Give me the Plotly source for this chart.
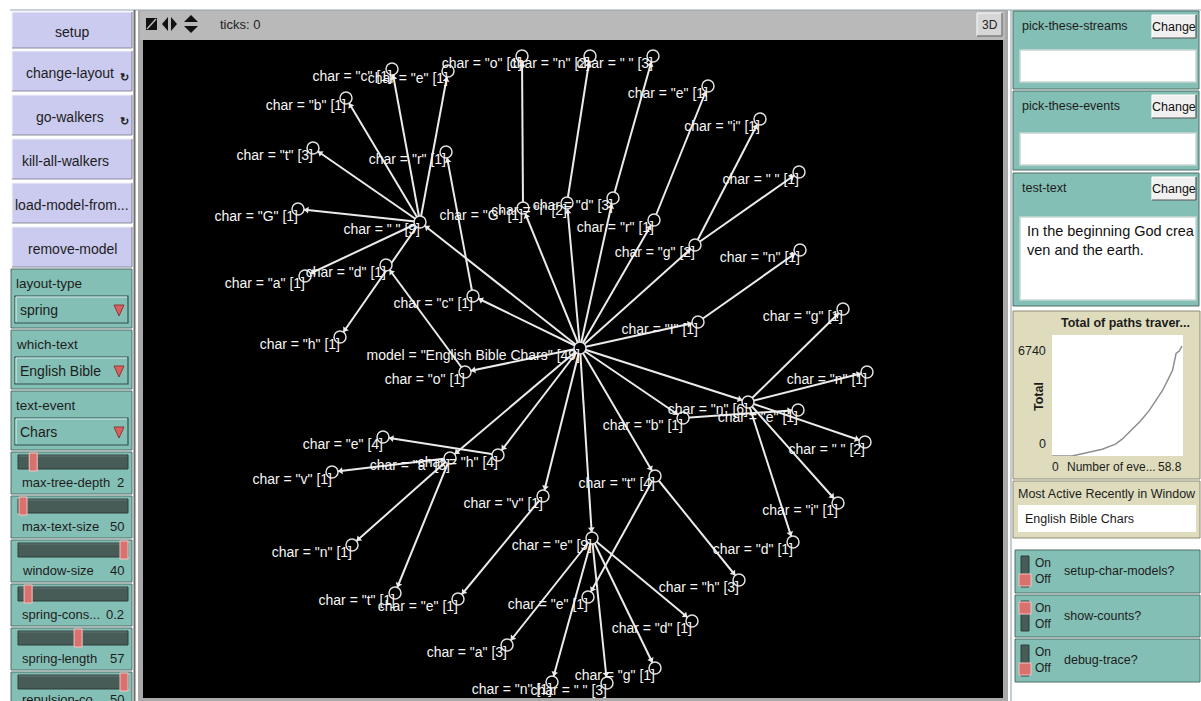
import math
import plotly.graph_objects as go

# ---------------- network data (positions in canvas pixels) ----------------
root_label = 'model = "English Bible Chars" [49]'
node_chars = ["", " ", "c", "e", "b", "t", "G", "a", "h", "c", "r", "o", "d", "G", "o", "i", "n",
              "d", " ", "r", "e", "g", "i", " ", "I", "n", "n", "g", "n", " ", "i", "d", "b", "e",
              "t", "h", "e", "e", "a", "n", " ", "g", "d", "v", "e", "h", "e", "a", "v", "n", "t"]
node_counts = [49, 9, 1, 1, 1, 3, 1, 1, 1, 1, 1, 1, 1, 1, 1, 2, 2, 3, 3, 1, 1, 2, 1, 1, 1, 1,
               6, 1, 1, 2, 1, 1, 1, 1, 4, 3, 1, 9, 3, 1, 3, 1, 1, 1, 1, 4, 4, 3, 1, 1, 1]
node_x = [580, 420, 392, 448, 346, 313, 298, 305, 340, 473, 446, 465, 386, 523, 522, 567, 590,
          613, 653, 654, 708, 695, 760, 799, 698, 800, 748, 843, 867, 865, 838, 793, 683, 798,
          655, 739, 588, 592, 507, 552, 607, 655, 692, 543, 458, 498, 383, 450, 332, 352, 395]
node_y = [348, 222, 69, 71, 98, 148, 209, 276, 337, 296, 152, 372, 265, 208, 56, 203, 56,
          198, 56, 220, 86, 245, 119, 172, 322, 250, 402, 309, 372, 442, 503, 542, 418, 410,
          476, 580, 597, 538, 645, 682, 683, 668, 621, 496, 599, 455, 437, 458, 472, 545, 593]
node_parent = [-1, 0, 1, 1, 1, 1, 1, 1, 1, 0, 9, 0, 11, 0, 13, 0, 15, 0, 17, 0, 19, 0, 21, 21,
               0, 24, 0, 26, 26, 26, 26, 26, 0, 32, 0, 34, 34, 0, 37, 37, 37, 37, 37, 0, 43,
               0, 45, 0, 47, 47, 47]

# ---------------- inset plot data ----------------
plot_x = [0, 8.9, 13.5, 22.5, 28.5, 31.5, 36.1, 39.8, 43.6, 46.6, 49.6, 51.9, 54.1, 55.7, 57.2, 58.3]
plot_y = [0, 0, 142, 414, 723, 1030, 1650, 2163, 2781, 3399, 4017, 4635, 5253, 6285, 6446, 6736]
plot_title = "Total of paths traver..."
plot_xlabel = "Number of eve..."
plot_ylabel = "Total"
plot_xmax_label = "58.8"
plot_ymax_label = "6740"

# ---------------- widget data ----------------
buttons = ["setup", "change-layout", "go-walkers", "kill-all-walkers", "load-model-from...", "remove-model"]
button_forever = [False, True, True, False, False, False]
chooser_names = ["layout-type", "which-text", "text-event"]
chooser_values = ["spring", "English Bible", "Chars"]
slider_names = ["max-tree-depth", "max-text-size", "window-size", "spring-cons...", "spring-length", "repulsion-co..."]
slider_values = ["2", "50", "40", "0.2", "57", "50"]
slider_frac = [0.11, 0.01, 1.0, 0.06, 0.55, 1.0]
input_names = ["pick-these-streams", "pick-these-events", "test-text"]
input_texts = ["", "", "In the beginning God crea<br>ven and the earth."]
monitor_name = "Most Active Recently in Window"
monitor_value = "English Bible Chars"
switch_names = ["setup-char-models?", "show-counts?", "debug-trace?"]
switch_on = [False, True, False]

W, H = 1201, 701
UI = "Liberation Sans, Arial, sans-serif"
LBL = "Liberation Sans, Arial, sans-serif"
TEAL = "#84bfb5"
TEAL_B = "#4c6e68"
LAV = "#cbcbef"
BEIGE = "#dedcbc"
TRACK = "#475c57"
THUMB = "#d9716f"

shapes = []
annots = []


def rect(x0, y0, x1, y1, fill, line=None, lw=1.0, layer="below"):
    shapes.append(dict(type="rect", xref="x", yref="y", x0=x0, y0=y0, x1=x1, y1=y1,
                       fillcolor=fill, line=dict(color=line if line else fill, width=lw if line else 0),
                       layer=layer))


def seg(x0, y0, x1, y1, color, w=1.0, layer="below"):
    shapes.append(dict(type="line", xref="x", yref="y", x0=x0, y0=y0, x1=x1, y1=y1,
                       line=dict(color=color, width=w), layer=layer))


def path(d, fill, line=None, layer="below"):
    shapes.append(dict(type="path", xref="x", yref="y", path=d, fillcolor=fill,
                       line=dict(color=line if line else fill, width=1 if line else 0), layer=layer))


def txt(x, y, s, size=13, color="#1c1c1c", xanchor="center", family=UI, angle=0):
    annots.append(dict(x=x, y=y, xref="x", yref="y", text=s, showarrow=False, xanchor=xanchor,
                       yanchor="middle", font=dict(size=size, color=color, family=family),
                       textangle=angle))


def bevel(x0, y0, x1, y1, fill, light="#f2f2fa", dark="#8a8aa0"):
    rect(x0, y0, x1, y1, fill)
    seg(x0, y0, x1, y0, light, 1.2)
    seg(x0, y0, x0, y1, light, 1.2)
    seg(x0, y1, x1, y1, dark, 1.2)
    seg(x1, y0, x1, y1, dark, 1.2)


# page frame lines
seg(10, 10, 1201, 10, "#93a3b5", 1.2)
seg(134.5, 10, 134.5, 701, "#6d6d6d", 2)

# ---- left panel: buttons ----
btn_rows = [(12, 48), (51, 91), (95, 135), (139, 179), (183, 223), (227, 267)]
for (y0, y1), name, fv in zip(btn_rows, buttons, button_forever):
    bevel(12, y0, 132, y1, LAV)
    cy = (y0 + y1) / 2 + 2
    cx = 72 if name != "kill-all-walkers" else 65
    if name == "change-layout" or name == "go-walkers":
        cx = 70
    txt(cx, cy, name, 14)
    if fv:
        txt(124, cy + 4, "<b>↻</b>", 11, "#222")

# ---- choosers ----
ch_tops = [269, 330, 391]
for top, name, val in zip(ch_tops, chooser_names, chooser_values):
    rect(11, top, 132, top + 59, TEAL, TEAL_B, 1)
    txt(14, top + 14, name, 13.5, xanchor="left")
    rect(15, top + 27, 128, top + 54, TEAL, "#35504b", 1.2)
    seg(16, top + 28, 127, top + 28, "#d2ece7", 1.2)
    seg(16, top + 28, 16, top + 53, "#d2ece7", 1.2)
    txt(18, top + 41, val, 14, xanchor="left")
    tx, ty = 119, top + 41
    path(f"M {tx-5} {ty-5} L {tx+5} {ty-5} L {tx} {ty+6} Z", "#d9605e", "#8a3a38")

# ---- sliders ----
sl_tops = [452, 496, 540, 584, 628, 672]
for top, name, val, fr in zip(sl_tops, slider_names, slider_values, slider_frac):
    rect(11, top, 132, top + 42, TEAL, TEAL_B, 1)
    rect(18, top + 3, 128, top + 17, TRACK, "#2e3d3a", 1)
    seg(19, top + 4, 127, top + 4, "#5f7772", 1)
    cx = 22 + fr * 102
    rect(cx - 4, top + 1, cx + 4, top + 19, THUMB, "#f3c5c3", 1)
    ty = min(top + 30, 699.5)
    txt(20, ty, name, 13, xanchor="left")
    txt(126, ty, val, 13, xanchor="right")

# ---- view frame ----
rect(138, 10, 1008, 701, "#a9a9a9")
rect(140, 11, 1005, 40, "#b9b9b9")
rect(143, 40, 1003, 698, "#000000")
# view toolbar icons
rect(146, 18, 157, 30, "#111111")
seg(147, 29, 156, 19, "#b9b9b9", 1.5)
path("M 162 24 L 168 17 L 168 31 Z", "#111111")
path("M 171 17 L 177 24 L 171 31 Z", "#111111")
path("M 184 22 L 191 15 L 198 22 Z", "#111111")
path("M 184 26 L 198 26 L 191 33 Z", "#111111")
txt(218, 24, "ticks: 0", 13, "#222", xanchor="left")
bevel(977, 13, 1002, 36, "#d6d6d6", "#f5f5f5", "#6f6f6f")
txt(989.5, 25, "3D", 12, "#222")

# ---- right panel ----
seg(1011, 10, 1011, 701, "#8898a8", 1)
in_rows = [(11, 89, 50, 82), (91, 170, 133, 165), (173, 306, 217, 300)]
for (y0, y1, b0, b1), name, val in zip(in_rows, input_names, input_texts):
    rect(1013, y0, 1199, y1, TEAL, TEAL_B, 1)
    txt(1020, y0 + 15, name, 12.5, xanchor="left")
    bevel(1152, y0 + 4, 1196, y0 + 27, "#f0f0f0", "#ffffff", "#555555")
    txt(1174, y0 + 16, "Change", 12.5, "#111")
    rect(1020, b0, 1196, b1, "#ffffff", "#c9d6d3", 1.5)
    if val:
        annots.append(dict(x=1025, y=b0 + 4, xref="x", yref="y", text=val, showarrow=False,
                           xanchor="left", yanchor="top", align="left",
                           font=dict(size=14.5, color="#111", family=UI)))

# plot widget
rect(1013, 311, 1200, 479, BEIGE, "#8c8b73", 1)
rect(1052, 335, 1183, 456, "#ffffff")
txt(1125, 323, f"<b>{plot_title}</b>", 12.5)
txt(1048, 351, plot_ymax_label, 12.5, xanchor="right")
txt(1048, 444, "0", 12.5, xanchor="right")
txt(1039, 397, f"<b>{plot_ylabel}</b>", 12.5, angle=-90)
txt(1055, 467, "0", 12)
txt(1065, 467, plot_xlabel, 12, xanchor="left")
txt(1184, 467, plot_xmax_label, 12, xanchor="right")

# monitor
rect(1013, 481, 1200, 538, BEIGE, "#8c8b73", 1)
txt(1107, 494, monitor_name, 12.5)
rect(1018, 505, 1196, 532, "#ffffff")
txt(1023, 519, monitor_value, 12.5, xanchor="left")

# switches
sw_rows = [(550, 593), (595, 637), (639, 682)]
for (y0, y1), name, on in zip(sw_rows, switch_names, switch_on):
    rect(1015, y0, 1200, y1, TEAL, TEAL_B, 1)
    rect(1021, y0 + 6, 1029, y1 - 6, TRACK, "#2e3d3a", 1)
    if on:
        rect(1019, y0 + 7, 1031, y0 + 19, THUMB, "#f3c5c3", 1)
    else:
        rect(1019, y1 - 19, 1031, y1 - 7, THUMB, "#f3c5c3", 1)
    txt(1033, y0 + 13, "On", 12, xanchor="left")
    txt(1033, y0 + 29, "Off", 12, xanchor="left")
    txt(1062, y0 + 21, name, 12.5, xanchor="left")

# ---------------- network traces ----------------
ex, ey, ax_, ay_, ang = [], [], [], [], []
for i, p in enumerate(node_parent):
    if p < 0:
        continue
    x0, y0, x1, y1 = node_x[p], node_y[p], node_x[i], node_y[i]
    ex += [x0, x1, None]
    ey += [y0, y1, None]
    L = math.hypot(x1 - x0, y1 - y0)
    ux, uy = (x1 - x0) / L, (y1 - y0) / L
    ax_.append(x1 - ux * 9)
    ay_.append(y1 - uy * 9)
    ang.append(math.degrees(math.atan2(ux, -uy)))

labels = [root_label] + [f'char = "{c}" [{n}]' for c, n in zip(node_chars[1:], node_counts[1:])]

fig = go.Figure()
fig.add_trace(go.Scatter(x=ex, y=ey, mode="lines", line=dict(color="#ebebeb", width=2),
                         hoverinfo="skip", showlegend=False))
fig.add_trace(go.Scatter(x=ax_, y=ay_, mode="markers", hoverinfo="skip", showlegend=False,
                         marker=dict(symbol="triangle-up", size=6, color="#ebebeb", angle=ang)))
fig.add_trace(go.Scatter(x=node_x, y=node_y, mode="markers", hoverinfo="skip", showlegend=False,
                         marker=dict(symbol="circle", size=12, color="#000000",
                                     line=dict(color="#e0e0e0", width=1.5))))
fig.add_trace(go.Scatter(x=[v for v in node_x], y=[v + 8 for v in node_y], mode="text",
                         text=labels, textposition="middle left", hoverinfo="skip", showlegend=False,
                         textfont=dict(color="#f6f6f6", size=14, family=LBL)))

# inset plot
fig.add_trace(go.Scatter(x=plot_x, y=plot_y, xaxis="x2", yaxis="y2", mode="lines",
                         line=dict(color="#8f8f8f", width=1.5), hoverinfo="skip", showlegend=False))

fig.update_layout(
    width=W, height=H, margin=dict(l=0, r=0, t=0, b=0),
    paper_bgcolor="#ffffff", plot_bgcolor="#ffffff",
    xaxis=dict(range=[0, W], domain=[0, 1], visible=False, fixedrange=True),
    yaxis=dict(range=[H, 0], domain=[0, 1], visible=False, fixedrange=True),
    xaxis2=dict(range=[0, 58.8], domain=[1052 / W, 1183 / W], visible=False, fixedrange=True,
                anchor="y2"),
    yaxis2=dict(range=[0, 7420], domain=[1 - 456 / H, 1 - 335 / H], visible=False, fixedrange=True,
                anchor="x2"),
    shapes=shapes, annotations=annots, showlegend=False,
)

fig.write_html("out.html", config={"displayModeBar": False},
               post_script="document.body.style.margin='0px';document.body.style.overflow='hidden';")
